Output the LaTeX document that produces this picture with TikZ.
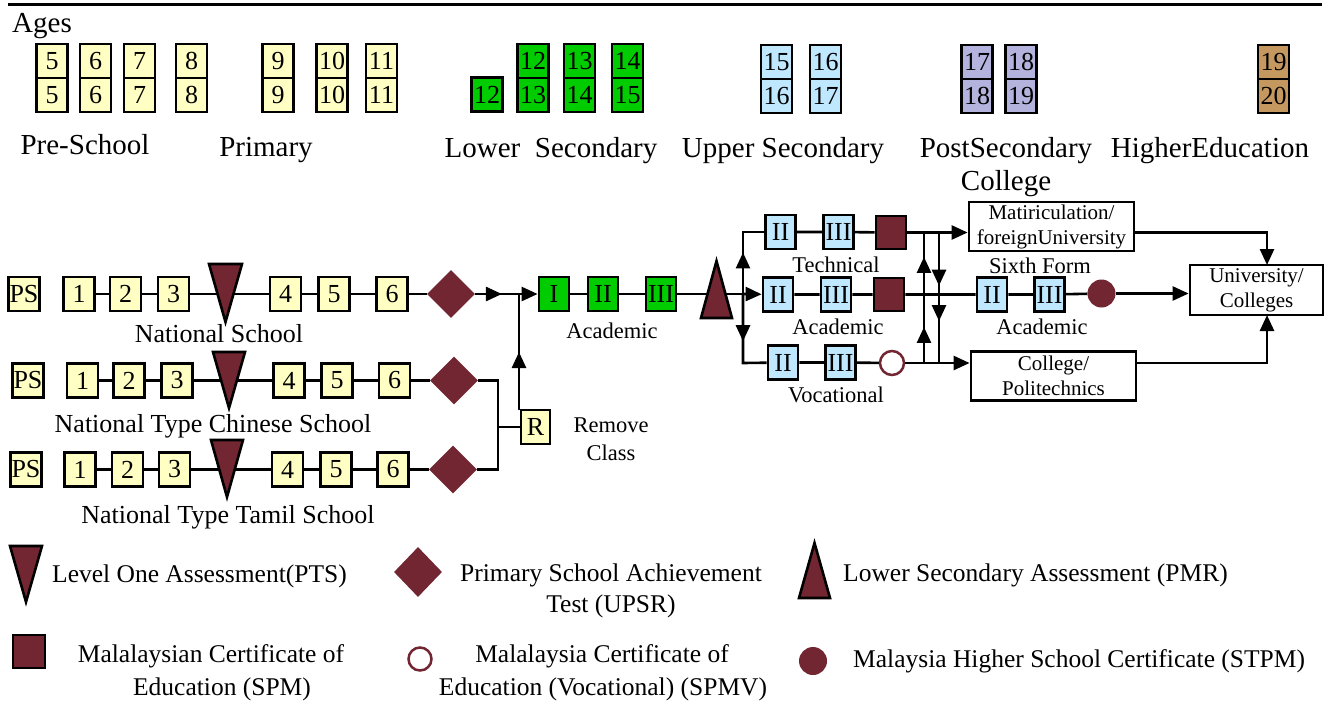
\documentclass[tikz,border=0pt]{standalone}
\usepackage{fontspec}
\setmainfont{Liberation Serif}
\usetikzlibrary{shapes.geometric,arrows.meta,decorations.markings,calc}
\definecolor{yel}{HTML}{FFFFC4}
\definecolor{grn}{HTML}{00CC00}
\definecolor{blu}{HTML}{BFE8FF}
\definecolor{lav}{HTML}{B3B3DD}
\definecolor{tanc}{HTML}{C4985F}
\definecolor{mar}{HTML}{722632}
\newcommand\fTop{\fontsize{29}{33}\selectfont}
\newcommand\fLab{\fontsize{26}{30}\selectfont}
\newcommand\fSm{\fontsize{22.5}{26}\selectfont}
\newcommand\fBx{\fontsize{26}{26}\selectfont}
\newcommand\fIn{\fontsize{21}{25}\selectfont}
\newcommand\fLeg{\fontsize{25.5}{33}\selectfont}
\begin{document}
\begin{tikzpicture}[x=1pt,y=-1pt,
  box/.style={draw,line width=2.8pt,minimum width=31pt,minimum height=34pt,inner sep=0pt,font=\fBx},
  yb/.style={box,fill=yel}, gb/.style={box,fill=grn}, bb/.style={box,fill=blu},
  lb/.style={box,fill=lav}, tb/.style={box,fill=tanc},
  sq/.style={box,fill=mar,minimum width=30pt,minimum height=33pt},
  dia/.style={diamond,fill=mar,minimum width=48pt,minimum height=48pt,inner sep=0pt},
  tri/.style={fill=mar,draw=black,line width=2.6pt,line join=miter},
  conn/.style={line width=2.6pt},
  arr/.style={-{Triangle[length=16pt,width=14pt]}},
  midarr/.style={postaction={decorate},decoration={markings,mark=at position #1 with {\arrow{Triangle[length=16pt,width=14pt]}}}},
  twoarr/.style 2 args={postaction={decorate},decoration={markings,mark=at position #1 with {\arrow{Triangle[length=16pt,width=14pt]}},mark=at position #2 with {\arrow{Triangle[length=16pt,width=14pt]}}}},
  wbox/.style={draw,line width=2.8pt,fill=white,minimum width=165pt,minimum height=49pt,inner sep=0pt,align=center,font=\fIn},
  txt/.style={inner sep=0pt,anchor=base},
]
\useasboundingbox (0,0) rectangle (1332,710);
\draw[line width=3pt] (8,4) -- (1322,4);

% ---------- ages ----------
\node[txt,anchor=base west,font=\fTop] (ages) at (12,32) {Ages};
\foreach \x/\a [count=\k] in {52/5,95.5/6,139.5/7,191.5/8,278/9,332/10,381.5/11}{
  \node[yb] (yt\k) at (\x,61) {\a};
  \node[yb] (yl\k) at (\x,95) {\a};
}
\node[gb] (g0) at (487,94.5) {12};
\foreach \x/\a/\b [count=\k] in {533/12/13,579.5/13/14,627.5/14/15}{
  \node[gb] (gt\k) at (\x,61) {\a};
  \node[gb] (gl\k) at (\x,95) {\b};
}
\foreach \x/\a/\b [count=\k] in {776.5/15/16,825.5/16/17}{
  \node[bb] (bt\k) at (\x,62) {\a};
  \node[bb] (bl\k) at (\x,96) {\b};
}
\foreach \x/\a/\b [count=\k] in {977/17/18,1021/18/19}{
  \node[lb] (lt\k) at (\x,62) {\a};
  \node[lb] (ll\k) at (\x,96) {\b};
}
\node[tb] (ht) at (1273.5,62) {19};
\node[tb] (hl) at (1273.5,96) {20};

\node[txt,font=\fTop] (lpre) at (85,154) {Pre-School};
\node[txt,font=\fTop] (lpri) at (266,156) {Primary};
\node[txt,font=\fTop] (llow) at (551,157) {Lower\ \ Secondary};
\node[txt,font=\fTop] (lupp) at (783,157) {Upper Secondary};
\node[txt,font=\fTop] (lpost) at (1006,157) {PostSecondary};
\node[txt,font=\fTop] (lcol) at (1006,190) {College};
\node[txt,font=\fTop] (lhig) at (1210,157) {HigherEducation};

% ---------- primary rows ----------
\node[yb] (ps1) at (24,294) {PS};
\node[yb] (a1) at (79,294) {1};
\node[yb] (a2) at (125.5,294) {2};
\node[yb] (a3) at (173.5,294) {3};
\node[yb] (a4) at (285.5,294) {4};
\node[yb] (a5) at (334,294) {5};
\node[yb] (a6) at (392,294) {6};
\node[dia] (d1) at (451,294) {};

\node[yb] (ps2) at (28,380.5) {PS};
\node[yb] (b1) at (82.5,380.5) {1};
\node[yb] (b2) at (129,380.5) {2};
\node[yb] (b3) at (177,380.5) {3};
\node[yb] (b4) at (289,380.5) {4};
\node[yb] (b5) at (337,380.5) {5};
\node[yb] (b6) at (394.5,380.5) {6};
\node[dia] (d2) at (454,380.5) {};

\node[yb] (ps3) at (26,469.5) {PS};
\node[yb] (c1) at (80,469.5) {1};
\node[yb] (c2) at (127.5,469.5) {2};
\node[yb] (c3) at (174.5,469.5) {3};
\node[yb] (c4) at (287.5,469.5) {4};
\node[yb] (c5) at (336,469.5) {5};
\node[yb] (c6) at (393,469.5) {6};
\node[dia] (d3) at (453,469.5) {};

\draw[conn] (a1)--(a2)--(a3)--(a4)--(a5)--(a6)--(d1);
\draw[conn] (b1)--(b2)--(b3)--(b4)--(b5)--(b6)--(d2);
\draw[conn] (c1)--(c2)--(c3)--(c4)--(c5)--(c6)--(d3);
\draw[tri] (209,264) -- (242,264) -- (225.5,322) -- cycle;
\draw[tri] (213,352) -- (245,352) -- (229,408) -- cycle;
\draw[tri] (211,440) -- (243,440) -- (227,497) -- cycle;

\node[txt,font=\fLab] (lns) at (219,342) {National School};
\node[txt,font=\fLab] (lnc) at (213,432) {National Type Chinese School};
\node[txt,font=\fLab] (lnt) at (228,523) {National Type Tamil School};

% ---------- remove class ----------
\node[yb,minimum width=29pt] (R) at (535.5,427) {R};
\node[txt,font=\fSm] (lrem) at (611,432) {Remove};
\node[txt,font=\fSm] (lcls) at (611,460) {Class};
\coordinate (m2) at (498,380.5);
\coordinate (m3) at (498,469.5);
\coordinate (mR) at (498,427);
\draw[conn] (d2.east) -- (m2) -- (m3) -- (d3.east);
\draw[conn] (mR) -- (R.west);

% ---------- lower secondary ----------
\node[gb,minimum width=30pt] (I) at (554,294) {I};
\node[gb,minimum width=30pt] (II) at (603,294) {II};
\node[gb,minimum width=30pt] (III) at (661,294) {III};
\node[txt,font=\fSm] (lac1) at (612,338) {Academic};
\coordinate (J) at (519,294);
\coordinate (JR) at (519,410);
\draw[conn,midarr=0.61] (d1.east) -- (J);
\draw[conn,arr] (J) -- (I);
\draw[conn,midarr=0.5] (JR) -- (J);
\draw[conn] (I)--(II)--(III);
\coordinate (br) at (743,294);
\coordinate (bt) at (743,232);
\coordinate (bv) at (743,363);
\draw[conn] (III) -- (br);
\draw[tri] (701,318) -- (732,318) -- (716.5,261) -- cycle;

% ---------- upper secondary ----------
\node[bb,minimum width=30pt] (tII) at (780.5,232) {II};
\node[bb,minimum width=30pt] (tIII) at (838.5,232) {III};
\node[sq] (tS) at (891,232.5) {};
\node[bb,minimum width=30pt] (aII) at (778,294.5) {II};
\node[bb,minimum width=30pt] (aIII) at (836,294.5) {III};
\node[sq] (aS) at (889,294.5) {};
\node[bb,minimum width=30pt] (vII) at (783,362.5) {II};
\node[bb,minimum width=30pt] (vIII) at (840.5,362.5) {III};
\node[circle,draw=mar,line width=2.5pt,fill=white,minimum size=24pt,inner sep=0pt] (vC) at (892,363) {};
\node[txt,font=\fSm] (ltec) at (836,272) {Technical};
\node[txt,font=\fSm] (lac2) at (838,334) {Academic};
\node[txt,font=\fSm] (lvoc) at (836,402) {Vocational};

\draw[conn,midarr=0.5] (br) -- (bt) -- (tII);
\draw[conn,arr] (br) -- (aII);
\draw[conn,midarr=0.51] (br) -- (bv) -- (vII);
\draw[conn] (tII)--(tIII)--(tS);
\draw[conn] (vII)--(vIII)--(vC);

% ---------- post secondary ----------
\node[wbox] (mat) at (1051.5,226.5) {Matiriculation/\\foreignUniversity};
\node[wbox] (col) at (1053.5,376) {College/\\Politechnics};
\node[wbox,minimum width=133pt,minimum height=50pt] (uni) at (1256.5,290) {University/\\Colleges};
\node[bb,minimum width=30pt] (sII) at (992,294.5) {II};
\node[bb,minimum width=30pt] (sIII) at (1049.5,294.5) {III};
\node[circle,fill=mar,minimum size=28pt,inner sep=0pt] (stpm) at (1101.5,293.5) {};
\node[txt,font=\fSm] (lsix) at (1040,273) {Sixth Form};
\node[txt,font=\fSm] (lac3) at (1042,334) {Academic};

\draw[conn] (aII)--(aIII)--(aS)--(sII)--(sIII)--(stpm);
\draw[conn,arr] (tS) -- (tS -| mat.west);
\draw[conn,arr] (vC) -- (vC -| col.west);
\draw[conn,arr] (stpm) -- (stpm -| uni.west);
\coordinate (L1) at (924,363);
\coordinate (L2) at (924,232);
\coordinate (R1) at (939,232);
\coordinate (R2) at (939,363);
\draw[conn,twoarr={0.275}{0.81}] (L1) -- (L2);
\draw[conn,twoarr={0.41}{0.68}] (R1) -- (R2);
\coordinate (uT) at (1267,265);
\coordinate (uB) at (1267,315);
\draw[conn,arr] (mat.east |- tS) -| (uT);
\draw[conn,arr] (col.east |- vC) -| (uB);

% ---------- legend ----------
\draw[tri] (10,546) -- (42,546) -- (26,602) -- cycle;
\node[txt,anchor=base west,font=\fLeg] (g1) at (52,582) {Level One Assessment(PTS)};
\node[dia,minimum height=50pt] (gd) at (418,572) {};
\node[txt,font=\fLeg] (g2a) at (611,581) {Primary School Achievement};
\node[txt,font=\fLeg] (g2b) at (611,612) {Test (UPSR)};
\draw[tri] (799,598) -- (830,598) -- (814.5,543) -- cycle;
\node[txt,anchor=base west,font=\fLeg] (g3) at (843,581) {Lower Secondary Assessment (PMR)};
\node[sq,minimum width=32pt,minimum height=33pt] (gs) at (29,651.5) {};
\node[txt,font=\fLeg] (g4a) at (211,662) {Malalaysian Certificate of};
\node[txt,font=\fLeg] (g4b) at (222,695) {Education (SPM)};
\node[circle,draw=mar,line width=2.5pt,fill=white,minimum size=23pt,inner sep=0pt] (gc) at (420,659) {};
\node[txt,font=\fLeg] (g5a) at (602,662) {Malalaysia Certificate of};
\node[txt,font=\fLeg] (g5b) at (603,695) {Education (Vocational) (SPMV)};
\node[circle,fill=mar,minimum size=28pt,inner sep=0pt] (gf) at (813,661) {};
\node[txt,anchor=base west,font=\fLeg] (g6) at (853,667) {Malaysia Higher School Certificate (STPM)};
\end{tikzpicture}
\end{document}
